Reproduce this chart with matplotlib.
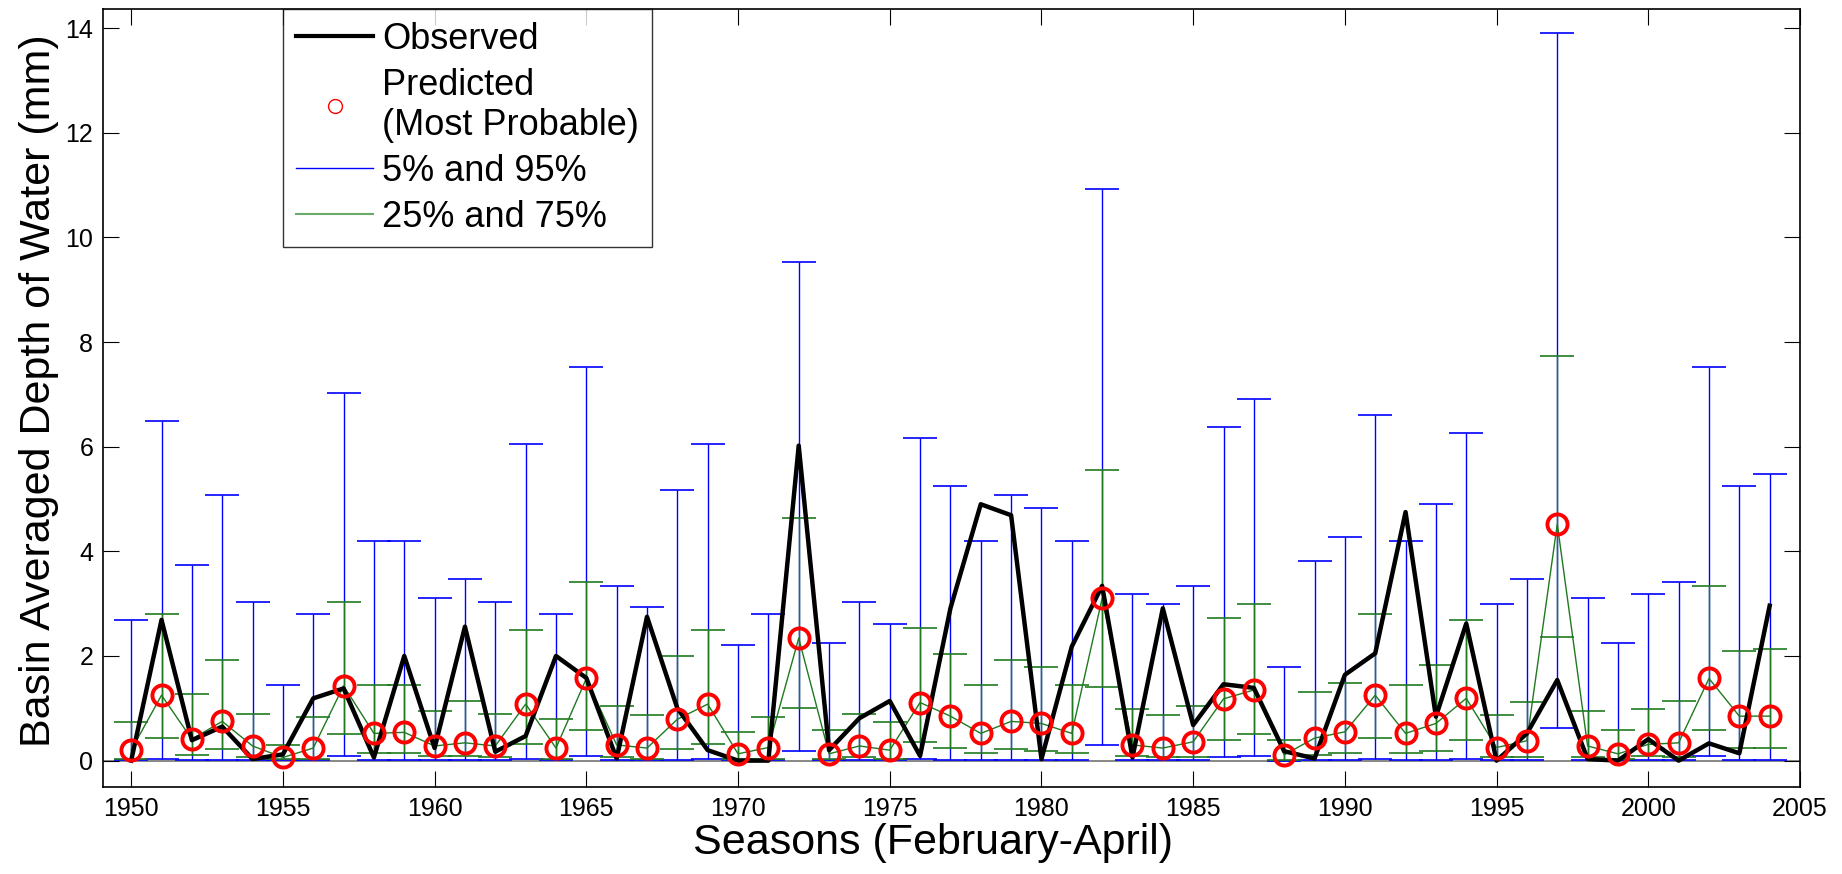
import numpy as np
import matplotlib
matplotlib.use('Agg')
import matplotlib.pyplot as plt
from matplotlib.lines import Line2D

plt.rcParams['font.family'] = ['Liberation Sans', 'DejaVu Sans']

years = np.arange(1950, 2005)

observed = [0.0, 2.69, 0.39, 0.65, 0.03, 0.12, 1.19, 1.38, 0.06, 2.0,
            0.24, 2.56, 0.17, 0.47, 2.0, 1.58, 0.04, 2.75, 1.0, 0.20,
            0.0, 0.0, 6.02, 0.20, 0.81, 1.14, 0.09, 2.91, 4.90, 4.69,
            0.03, 2.18, 3.34, 0.06, 2.91, 0.68, 1.46, 1.39, 0.18, 0.04,
            1.64, 2.05, 4.75, 0.84, 2.62, 0.0, 0.52, 1.54, 0.03, 0.0,
            0.41, 0.0, 0.33, 0.14, 2.96]

predicted = [0.20, 1.25, 0.41, 0.75, 0.28, 0.06, 0.24, 1.43, 0.52, 0.54,
             0.28, 0.34, 0.28, 1.08, 0.24, 1.57, 0.30, 0.24, 0.79, 1.08,
             0.13, 0.25, 2.34, 0.13, 0.28, 0.20, 1.11, 0.85, 0.52, 0.75,
             0.71, 0.52, 3.10, 0.30, 0.24, 0.36, 1.18, 1.35, 0.11, 0.43,
             0.55, 1.25, 0.52, 0.71, 1.19, 0.25, 0.38, 4.52, 0.28, 0.13,
             0.31, 0.34, 1.57, 0.85, 0.85]

p95 = [2.68, 6.49, 3.73, 5.08, 3.04, 1.45, 2.80, 7.03, 4.20, 4.20,
       3.11, 3.48, 3.04, 6.05, 2.80, 7.52, 3.34, 2.94, 5.18, 6.05,
       2.21, 2.80, 9.53, 2.24, 3.04, 2.61, 6.17, 5.25, 4.20, 5.08,
       4.82, 4.20, 10.92, 3.18, 3.00, 3.34, 6.38, 6.92, 1.78, 3.81,
       4.28, 6.60, 4.20, 4.90, 6.27, 3.00, 3.48, 13.90, 3.11, 2.24,
       3.18, 3.41, 7.52, 5.25, 5.47]

p75 = [0.73, 2.80, 1.27, 1.92, 0.90, 0.29, 0.83, 3.04, 1.45, 1.45,
       0.95, 1.13, 0.90, 2.50, 0.80, 3.41, 1.04, 0.87, 2.00, 2.50,
       0.54, 0.83, 4.64, 0.59, 0.90, 0.73, 2.54, 2.03, 1.45, 1.92,
       1.78, 1.45, 5.55, 0.98, 0.87, 1.04, 2.72, 3.00, 0.40, 1.31,
       1.49, 2.80, 1.45, 1.82, 2.68, 0.87, 1.12, 7.73, 0.95, 0.58,
       0.98, 1.13, 3.34, 2.10, 2.14]

p25 = [0.03, 0.44, 0.11, 0.22, 0.06, 0.03, 0.03, 0.50, 0.14, 0.14,
       0.08, 0.08, 0.06, 0.32, 0.03, 0.59, 0.06, 0.04, 0.22, 0.32,
       0.03, 0.03, 1.01, 0.03, 0.06, 0.03, 0.36, 0.25, 0.14, 0.22,
       0.18, 0.14, 1.41, 0.08, 0.06, 0.06, 0.40, 0.50, 0.01, 0.11,
       0.14, 0.44, 0.14, 0.18, 0.40, 0.06, 0.06, 2.36, 0.06, 0.03,
       0.08, 0.06, 0.58, 0.25, 0.25]

p5 = [0.01, 0.03, 0.01, 0.02, 0.01, 0.01, 0.01, 0.08, 0.02, 0.02,
      0.01, 0.02, 0.01, 0.03, 0.01, 0.08, 0.01, 0.01, 0.02, 0.03,
      0.01, 0.01, 0.18, 0.01, 0.01, 0.01, 0.03, 0.02, 0.02, 0.02,
      0.02, 0.02, 0.29, 0.01, 0.01, 0.01, 0.06, 0.08, 0.00, 0.01,
      0.02, 0.03, 0.02, 0.02, 0.03, 0.01, 0.01, 0.62, 0.01, 0.01,
      0.01, 0.01, 0.08, 0.02, 0.02]

pred = np.array(predicted)
err95 = [np.clip(pred - np.array(p5), 0, None), np.clip(np.array(p95) - pred, 0, None)]
err75 = [np.clip(pred - np.array(p25), 0, None), np.clip(np.array(p75) - pred, 0, None)]

fig = plt.figure(figsize=(18.42, 8.74), dpi=100)
ax = fig.add_axes([0.0559, 0.0992, 0.9213, 0.8902])

ax.axhline(0, color='0.45', lw=1.2, zorder=1)
ax.errorbar(years, pred, yerr=err95, fmt='none', ecolor='#0000ff',
            elinewidth=1.0, capsize=12.2, capthick=1.2, zorder=2)
ax.errorbar(years, pred, yerr=err75, fmt='-', color='#1f7a1f', lw=1.0,
            ecolor='#1f7a1f', elinewidth=1.0, capsize=12.2, capthick=1.2, zorder=3)
ax.plot(years, observed, color='black', lw=3.2, zorder=4)
ax.plot(years, predicted, 'o', ms=14.5, mfc='none', mec='red', mew=2.8, zorder=5)

ax.set_xlim(1949.07, 2005)
ax.set_ylim(-0.51, 14.36)
ax.set_xticks(np.arange(1950, 2006, 5))
ax.set_yticks(np.arange(0, 15, 2))
ax.tick_params(direction='in', length=11.3, width=0.8, labelsize=18, pad=7,
               top=True, right=True)
for s in ax.spines.values():
    s.set_linewidth(1.2)

fig.text(0.5065, 0.035, 'Seasons (February-April)', fontsize=31,
         ha='center', va='center')
fig.text(0.0212, 0.553, 'Basin Averaged Depth of Water (mm)', fontsize=31,
         rotation=90, ha='center', va='center')

handles = [
    Line2D([], [], color='black', lw=3.0),
    Line2D([], [], ls='none', marker='o', ms=10, mfc='none', mec='red', mew=1.0),
    Line2D([], [], color='#0000ff', lw=1.0),
    Line2D([], [], color='#6aaa6a', lw=1.5),
]
labels = ['Observed', 'Predicted\n(Most Probable)', '5% and 95%', '25% and 75%']
leg = ax.legend(handles, labels, loc='upper left', bbox_to_anchor=(0.1062, 1.0),
                borderaxespad=0, fontsize=26, frameon=True, fancybox=False,
                edgecolor='black', handlelength=2.15, handletextpad=0.25,
                labelspacing=0.3, borderpad=0.35)
leg.get_frame().set_linewidth(1.0)

fig.savefig('out.png', dpi=100)
